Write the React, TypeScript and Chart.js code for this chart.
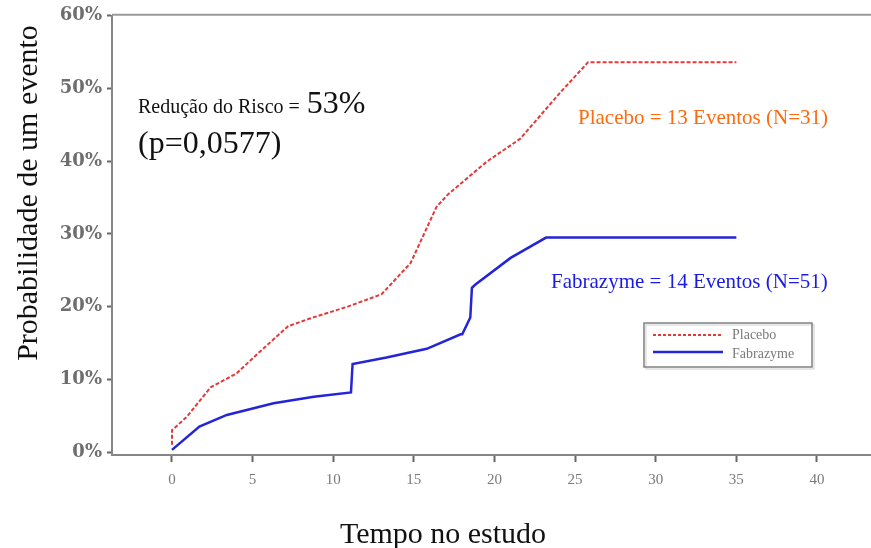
import React, { useEffect, useRef } from "react";
import { Chart, registerables } from "chart.js";

Chart.register(...registerables);

// ---- data ----
const placeboX = [0, 0, 0.9, 2.4, 4.0, 5.3, 7.2, 8.6, 10.9, 13.0, 14.8, 16.4, 17.1, 17.9, 19.5, 21.6, 24.1, 25.8, 35.0];
const placeboY = [1.0, 3.0, 4.8, 8.9, 10.8, 13.5, 17.3, 18.4, 20.0, 21.7, 26.0, 33.7, 35.4, 36.9, 39.9, 43.1, 49.5, 53.6, 53.6];

const fabrazymeX = [0, 1.7, 3.4, 6.3, 8.8, 11.1, 11.2, 13.3, 15.8, 17.9, 18.0, 18.5, 18.6, 18.8, 21.0, 23.2, 35.0];
const fabrazymeY = [0.3, 3.5, 5.1, 6.7, 7.6, 8.2, 12.1, 13.0, 14.2, 16.2, 16.2, 18.5, 22.6, 23.0, 26.7, 29.5, 29.5];

const xTicks = [0, 5, 10, 15, 20, 25, 30, 35, 40];
const yTicks = [0, 10, 20, 30, 40, 50, 60];

const seriesNames = ["Placebo", "Fabrazyme"];
const xTitle = "Tempo no estudo";
const yTitle = "Probabilidade de um evento";
const riskText = "Redução do Risco = ";
const riskValue = "53%";
const pText = "(p=0,0577)";
const placeboNote = "Placebo = 13 Eventos (N=31)";
const fabrazymeNote = "Fabrazyme = 14 Eventos (N=51)";

const RED = "#e23a3a";
const BLUE = "#2424d8";
const SERIF = '"Liberation Serif", "Times New Roman", serif';

const overlayPlugin = {
  id: "overlay",
  afterDraw(chart: any) {
    const ctx = chart.ctx as CanvasRenderingContext2D;
    const area = chart.chartArea;
    ctx.save();

    // top frame line
    ctx.strokeStyle = "#9a9a9a";
    ctx.lineWidth = 2;
    ctx.beginPath();
    ctx.moveTo(area.left, area.top - 1);
    ctx.lineTo(area.right, area.top - 1);
    ctx.stroke();

    // y axis title
    ctx.save();
    ctx.translate(37, 193);
    ctx.rotate(-Math.PI / 2);
    ctx.fillStyle = "#111";
    ctx.font = `30px ${SERIF}`;
    ctx.textAlign = "center";
    ctx.textBaseline = "alphabetic";
    ctx.fillText(yTitle, 0, 0);
    ctx.restore();

    // x axis title
    ctx.fillStyle = "#111";
    ctx.font = `30px ${SERIF}`;
    ctx.textAlign = "center";
    ctx.textBaseline = "alphabetic";
    ctx.fillText(xTitle, 443, 543);

    // risk reduction text
    ctx.textAlign = "left";
    ctx.fillStyle = "#111";
    ctx.font = `20px ${SERIF}`;
    ctx.fillText(riskText, 138, 113);
    const w = ctx.measureText(riskText).width;
    ctx.font = `32px ${SERIF}`;
    ctx.fillText(riskValue, 138 + w + 2, 113);
    ctx.fillText(pText, 138, 153);

    // series notes
    ctx.font = `21px ${SERIF}`;
    ctx.fillStyle = "#ff6a10";
    ctx.fillText(placeboNote, 578, 124);
    ctx.fillStyle = "#1a1ae6";
    ctx.fillText(fabrazymeNote, 551, 288);

    // legend box
    ctx.strokeStyle = "#cfcfcf";
    ctx.lineWidth = 1;
    ctx.strokeRect(646, 325, 168, 44);
    ctx.strokeStyle = "#808080";
    ctx.lineWidth = 1.5;
    ctx.strokeRect(644, 323, 168, 44);

    ctx.lineWidth = 2;
    ctx.strokeStyle = RED;
    ctx.setLineDash([3, 2]);
    ctx.beginPath();
    ctx.moveTo(653, 335);
    ctx.lineTo(723, 335);
    ctx.stroke();
    ctx.setLineDash([]);
    ctx.strokeStyle = BLUE;
    ctx.lineWidth = 2.5;
    ctx.beginPath();
    ctx.moveTo(653, 352);
    ctx.lineTo(723, 352);
    ctx.stroke();

    ctx.fillStyle = "#7a7a7a";
    ctx.font = `14px ${SERIF}`;
    ctx.textBaseline = "middle";
    ctx.fillText(seriesNames[0], 732, 335);
    ctx.fillText(seriesNames[1], 732, 354);

    ctx.restore();
  },
};

export default function App() {
  const canvasRef = useRef<HTMLCanvasElement | null>(null);

  useEffect(() => {
    const canvas = canvasRef.current;
    if (!canvas) return;
    const chart = new Chart(canvas, {
      type: "line",
      data: {
        datasets: [
          {
            label: seriesNames[0],
            data: placeboX.map((x, i) => ({ x, y: placeboY[i] })),
            borderColor: RED,
            borderWidth: 2,
            borderDash: [4, 2],
            pointRadius: 0,
            tension: 0,
            fill: false,
          },
          {
            label: seriesNames[1],
            data: fabrazymeX.map((x, i) => ({ x, y: fabrazymeY[i] })),
            borderColor: BLUE,
            borderWidth: 2.5,
            pointRadius: 0,
            tension: 0,
            fill: false,
          },
        ],
      },
      options: {
        responsive: false,
        animation: false,
        devicePixelRatio: 1,
        layout: { padding: { left: 0, top: 13, right: 0, bottom: 0 } },
        plugins: {
          legend: { display: false },
          tooltip: { enabled: false },
        },
        scales: {
          x: {
            type: "linear",
            min: -3.72,
            max: 43.35,
            afterFit: (scale: any) => {
              scale.height = 93;
            },
            afterBuildTicks: (scale: any) => {
              scale.ticks = xTicks.map((v) => ({ value: v }));
            },
            border: { display: true, color: "#858585", width: 2 },
            grid: {
              drawOnChartArea: false,
              drawTicks: true,
              tickLength: 7,
              tickWidth: 2,
              tickColor: "#666",
            },
            ticks: {
              padding: 9,
              color: "#7a7a7a",
              font: { family: SERIF, size: 15 },
              maxRotation: 0,
              autoSkip: false,
            },
          },
          y: {
            type: "linear",
            min: -0.41,
            max: 60,
            afterFit: (scale: any) => {
              scale.width = 112;
            },
            afterBuildTicks: (scale: any) => {
              scale.ticks = yTicks.map((v) => ({ value: v }));
            },
            border: { display: true, color: "#858585", width: 2 },
            grid: {
              drawOnChartArea: false,
              drawTicks: true,
              tickLength: 5,
              tickWidth: 2,
              tickColor: "#666",
            },
            ticks: {
              padding: 5,
              color: "#6e6e6e",
              font: { family: '"DejaVu Serif", serif', size: 18, weight: "bold" },
              callback: (v: any) => `${v}%`,
              autoSkip: false,
            },
          },
        },
      },
      plugins: [overlayPlugin],
    });
    return () => chart.destroy();
  }, []);

  return (
    <div style={{ position: "absolute", left: 0, top: 0, width: 871, height: 548, background: "#fff" }}>
      <canvas ref={canvasRef} width={871} height={548} style={{ width: 871, height: 548, display: "block" }} />
    </div>
  );
}
